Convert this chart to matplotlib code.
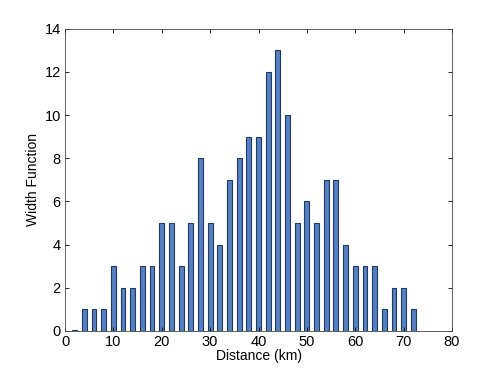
import matplotlib
matplotlib.use("Agg")
import matplotlib.pyplot as plt

# distancia (km) y valor de la funcion de ancho
distancia = [2, 4, 6, 8, 10, 12, 14, 16, 18, 20, 22, 24, 26, 28, 30, 32, 34, 36,
             38, 40, 42, 44, 46, 48, 50, 52, 54, 56, 58, 60, 62, 64, 66, 68, 70, 72]
ancho = [0.03, 1, 1, 1, 3, 2, 2, 3, 3, 5, 5, 3, 5, 8, 5, 4, 7, 8,
         9, 9, 12, 13, 10, 5, 6, 5, 7, 7, 4, 3, 3, 3, 1, 2, 2, 1]

xticks = [0, 10, 20, 30, 40, 50, 60, 70, 80]
yticks = [0, 2, 4, 6, 8, 10, 12, 14]

plt.rcParams["font.family"] = ["Liberation Sans", "DejaVu Sans"]

fig = plt.figure(figsize=(5, 3.74), dpi=100)
ax = fig.add_axes([0.13, 0.115, 0.774, 0.808])

ax.bar(distancia, ancho, width=1.0, color="#5581c0", edgecolor="#1f3864", linewidth=0.8)

ax.set_xlim(0, 80)
ax.set_ylim(0, 14)
ax.set_xticks(xticks)
ax.set_yticks(yticks)
ax.tick_params(direction="in", top=True, right=True, labelsize=10.5, length=3, width=0.6, pad=3)
for s in ax.spines.values():
    s.set_linewidth(0.6)
    s.set_color("#444444")

ax.set_xlabel("Distance (km)", fontsize=10, labelpad=0)
ax.set_ylabel("Width Function", fontsize=10, labelpad=3)

fig.savefig("out.png", dpi=100)
